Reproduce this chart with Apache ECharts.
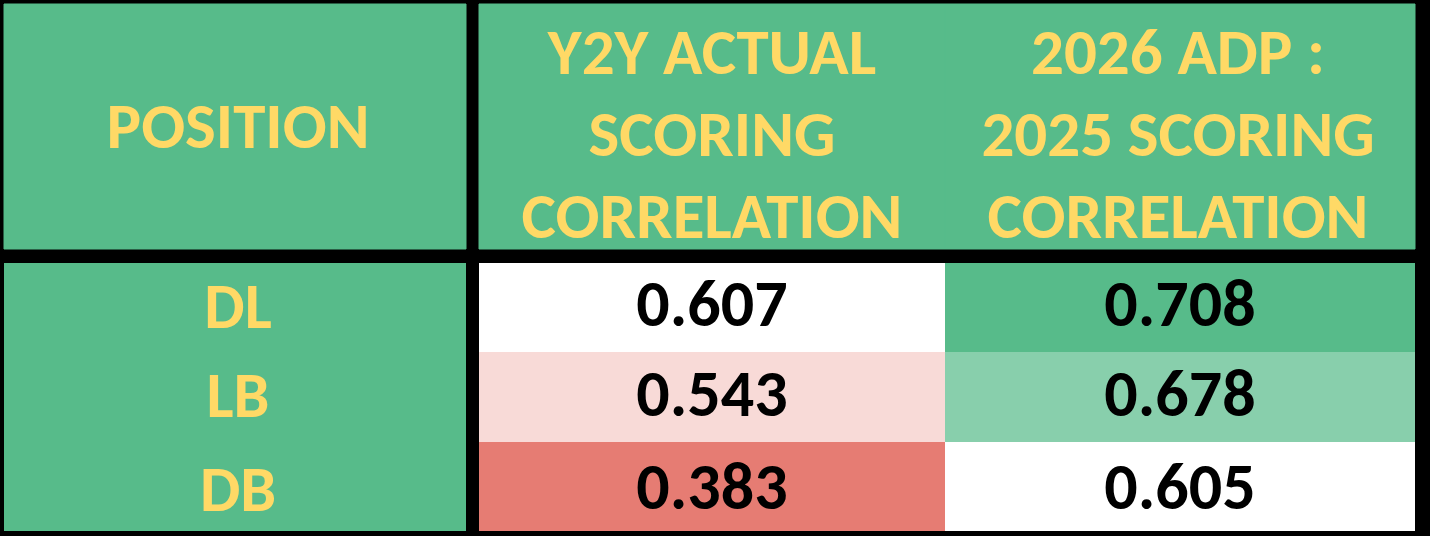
<!DOCTYPE html>
<html>
<head>
<meta charset="utf-8">
<script src="https://cdn.jsdelivr.net/npm/echarts@6/dist/echarts.min.js"></script>
<style>
html,body{margin:0;padding:0;background:#000;}
#chart{width:1430px;height:536px;}
</style>
</head>
<body>
<div id="chart"></div>
<script>
// ---- data ----
var columns = ['POSITION', 'Y2Y ACTUAL\nSCORING\nCORRELATION', '2026 ADP :\n2025 SCORING\nCORRELATION'];
var positions = ['DL', 'LB', 'DB'];
var y2yCorrelation = [0.607, 0.543, 0.383];
var adpCorrelation = [0.708, 0.678, 0.605];

// ---- colour scales (per column, like spreadsheet conditional formatting) ----
var GREEN = [87, 187, 138], WHITE = [255, 255, 255], RED = [230, 124, 115];
var YELLOW = '#FFD966';
var FONT = 'Carlito, Lato, "Noto Sans", sans-serif';
function mix(a, b, t) {
  return 'rgb(' + a.map(function (v, i) { return Math.round(v + (b[i] - v) * t); }).join(',') + ')';
}
function scaleColor(values, v, lowC, highC) {
  var mn = Math.min.apply(null, values), mx = Math.max.apply(null, values);
  return mix(lowC, highC, (v - mn) / (mx - mn));
}

var headerData = columns.map(function (c, i) { return [i, 0, c]; });
var bodyData = [];
positions.forEach(function (p, r) {
  bodyData.push([0, r, p]);
  bodyData.push([1, r, y2yCorrelation[r]]);
  bodyData.push([2, r, adpCorrelation[r]]);
});

function cellRect(api, col, row) {
  var c = api.coord([col, row]);
  var s = api.size([1, 1]);
  var x0 = c[0] - s[0] / 2, x1 = c[0] + s[0] / 2;
  var y0 = c[1] - s[1] / 2, y1 = c[1] + s[1] / 2;
  if (col === 0) x1 -= 8.6;      // black separator after first column
  if (col === 1) x0 += 4.7;
  x0 = Math.round(x0); x1 = Math.round(x1); y0 = Math.round(y0); y1 = Math.round(y1);
  return { x: x0, y: y0, width: x1 - x0, height: y1 - y0 };
}

var chart = echarts.init(document.getElementById('chart'), null, { renderer: 'canvas' });
chart.setOption({
  backgroundColor: '#000',
  animation: false,
  grid: [
    { left: 4, right: 15, top: 4, height: 245 },
    { left: 4, right: 15, top: 263, bottom: 5 }
  ],
  xAxis: [
    { type: 'category', data: columns, gridIndex: 0, show: false },
    { type: 'category', data: columns, gridIndex: 1, show: false }
  ],
  yAxis: [
    { type: 'category', data: ['header'], gridIndex: 0, show: false },
    { type: 'category', data: positions, gridIndex: 1, inverse: true, show: false }
  ],
  series: [
    {
      type: 'custom',
      xAxisIndex: 0, yAxisIndex: 0,
      data: headerData,
      renderItem: function (params, api) {
        var col = api.value(0);
        var r = cellRect(api, col, 0);
        var label = columns[col];
        var cx = r.x + r.width / 2 + (col === 0 ? 3 : (col === 2 ? -2 : 0));
        var cy = r.y + r.height / 2 + (col === 0 ? 5 : 13);
        return {
          type: 'group',
          children: [
            { type: 'rect', shape: r, style: { fill: mix(GREEN, GREEN, 0), stroke: mix(GREEN, GREEN, 0), lineWidth: 1 } },
            { type: 'text', style: {
                text: label, x: cx, y: cy, fill: YELLOW,
                font: 'bold 65px ' + FONT, align: 'center', verticalAlign: 'middle',
                lineHeight: 82
            } }
          ]
        };
      }
    },
    {
      type: 'custom',
      xAxisIndex: 1, yAxisIndex: 1,
      data: bodyData,
      renderItem: function (params, api) {
        var col = api.value(0), row = api.value(1);
        var r = cellRect(api, col, row);
        var fill, text, color, size;
        if (col === 0) {
          fill = mix(GREEN, GREEN, 0); text = positions[row]; color = YELLOW; size = 64;
        } else {
          var vals = col === 1 ? y2yCorrelation : adpCorrelation;
          var v = vals[row];
          fill = col === 1 ? scaleColor(vals, v, RED, WHITE) : scaleColor(vals, v, WHITE, GREEN);
          text = v.toFixed(3); color = '#000'; size = 66;
        }
        var cx = r.x + r.width / 2 + (col === 0 ? 3 : 0);
        var cy = r.y + r.height / 2 + (col === 0 ? 4 : 2) + (row === 2 ? 4 : 0);
        return {
          type: 'group',
          children: [
            { type: 'rect', shape: r, style: { fill: fill } },
            { type: 'text', style: {
                text: text, x: cx, y: cy, fill: color,
                font: 'bold ' + size + 'px ' + FONT, align: 'center', verticalAlign: 'middle'
            } }
          ]
        };
      }
    }
  ]
});
</script>
</body>
</html>
